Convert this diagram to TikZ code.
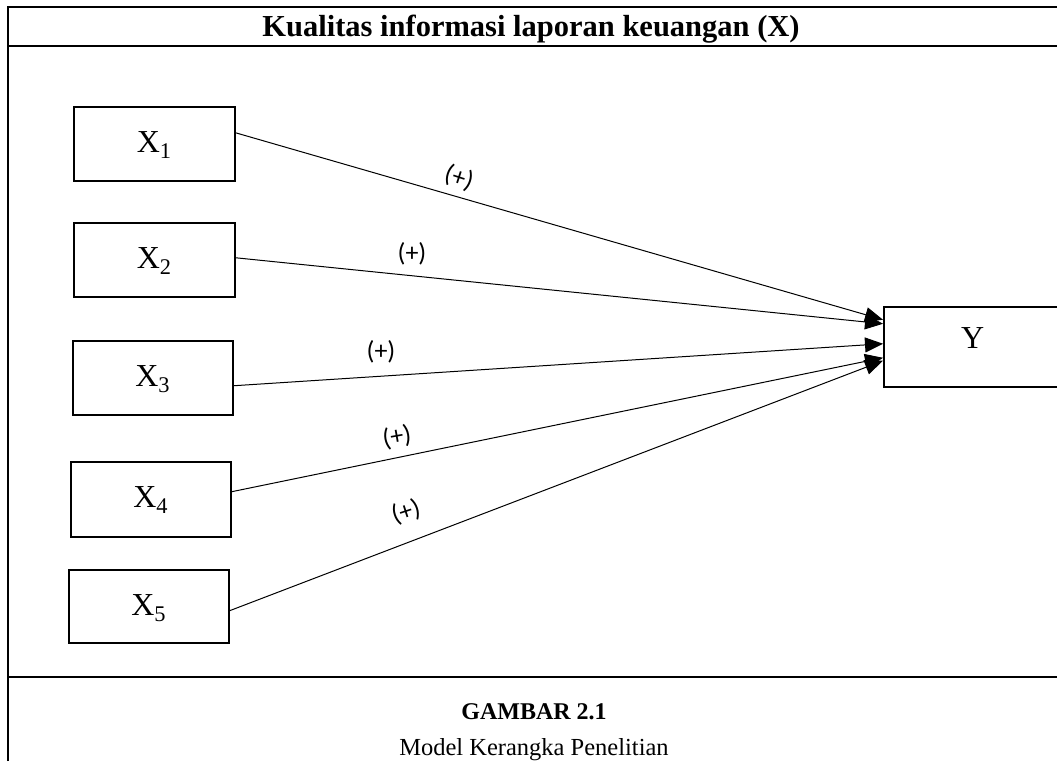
\documentclass[tikz,border=0pt]{standalone}
\usepackage{fontspec}
\setmainfont{Liberation Serif}
\newfontfamily\calib{Carlito}
\usetikzlibrary{arrows.meta}
\begin{document}
\begin{tikzpicture}[x=1pt,y=-1pt,
  frameline/.style={line width=2pt},
  boxst/.style={draw,line width=1.5pt,inner sep=0pt,anchor=north west},
  lbl/.style={font=\fontsize{32}{36}\selectfont,anchor=base,inner sep=0pt},
  arr/.style={line width=1pt,-{Triangle[length=18pt,width=15pt]}},
  sign/.style={font=\calib\fontsize{26}{30}\selectfont,inner sep=0pt}]
\useasboundingbox (0,0) rectangle (1057,761);
\fill[white] (0,0) rectangle (1057,761);
% table frame
\draw[frameline] (8,761) -- (8,7) -- (1060,7);
\draw[frameline] (8,46) -- (1060,46);
\draw[frameline] (8,677) -- (1060,677);
% texts
\node[font=\bfseries\fontsize{30.5}{34}\selectfont,anchor=base,inner sep=0pt] (title) at (531,36) {Kualitas informasi laporan keuangan (X)};
\node[font=\bfseries\fontsize{24}{28}\selectfont,anchor=base,inner sep=0pt] (gb) at (534,719) {GAMBAR 2.1};
\node[font=\fontsize{24.5}{28}\selectfont,anchor=base,inner sep=0pt] (cap) at (534,755) {Model Kerangka Penelitian};
% boxes
\node[boxst,minimum width=161pt,minimum height=74pt] (x1) at (73,106) {};
\node[boxst,minimum width=161pt,minimum height=74pt] (x2) at (73,222) {};
\node[boxst,minimum width=160pt,minimum height=74pt] (x3) at (72,340) {};
\node[boxst,minimum width=160pt,minimum height=75pt] (x4) at (70,461) {};
\node[boxst,minimum width=160pt,minimum height=73pt] (x5) at (68,569) {};
\node[boxst,minimum width=178pt,minimum height=80pt] (y) at (883,306) {};
\node[lbl] (x1t) at ([yshift=-46pt]x1.north) {X\textsubscript{1}};
\node[lbl] (x2t) at ([yshift=-46pt]x2.north) {X\textsubscript{2}};
\node[lbl] (x3t) at ([yshift=-46pt]x3.north) {X\textsubscript{3}};
\node[lbl] (x4t) at ([yshift=-46pt]x4.north) {X\textsubscript{4}};
\node[lbl] (x5t) at ([yshift=-46pt]x5.north) {X\textsubscript{5}};
\node[lbl] (yt) at ([yshift=-42pt]y.north) {Y};
% arrows
\draw[arr] ([yshift=11pt]x1.east) -- ([yshift=27pt]y.west);
\draw[arr] ([yshift=2pt]x2.east) -- ([yshift=23pt]y.west);
\draw[arr] ([yshift=-8pt]x3.east) -- ([yshift=3pt]y.west);
\draw[arr] ([yshift=7.5pt]x4.east) -- ([yshift=-11pt]y.west);
\draw[arr] ([yshift=-4.5pt]x5.east) -- ([yshift=-14pt]y.west);
% signs
\node[sign,rotate=-18] (s1) at (459,178) {(+)};
\node[sign] (s2) at (412,254) {(+)};
\node[sign] (s3) at (381,352) {(+)};
\node[sign,rotate=10] (s4) at (397,437) {(+)};
\node[sign,rotate=18] (s5) at (406,512) {(+)};
\end{tikzpicture}
\end{document}
